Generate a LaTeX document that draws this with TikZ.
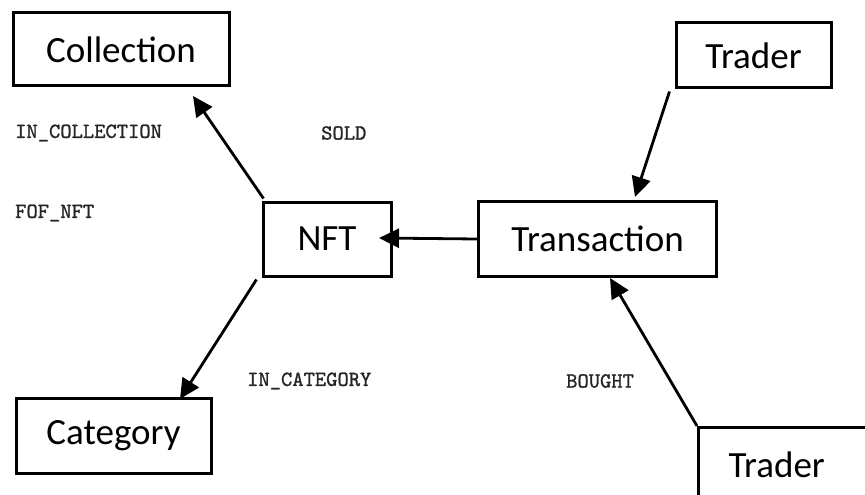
\documentclass[tikz,border=0pt]{standalone}
\usepackage{fontspec}
\setmainfont{Carlito}
\newfontfamily\relfont[FakeBold=1.2]{lmmono10-regular.otf}
\usetikzlibrary{arrows.meta}
\tikzset{
  box/.style={draw=black, line width=3pt, fill=white, inner sep=0pt, font=\fontsize{37}{40}\selectfont, text=black},
  rel/.style={font=\relfont\fontsize{21.5}{24}\selectfont, anchor=west, inner sep=0pt, text=black!85},
  link/.style={line width=2.8pt, -{Triangle[length=20pt,width=19pt]}}
}
\begin{document}
\begin{tikzpicture}[x=1pt,y=-1pt]
\useasboundingbox (0,0) rectangle (865,495);
\clip (0,0) rectangle (865,495);
\fill[white] (0,0) rectangle (865,495);
\node[box, minimum width=216pt, minimum height=73pt] (coll) at (121,49.5) {Collection};
\node[box, minimum width=155pt, minimum height=65pt] (trader1) at (753.5,55.5) {Trader};
\node[box, minimum width=128pt, minimum height=74pt] (nft) at (327,239) {NFT};
\node[box, minimum width=238pt, minimum height=75pt] (trans) at (597.5,239) {Transaction};
\node[box, minimum width=195pt, minimum height=75pt] (cat) at (113.5,435.5) {Category};
\node[box, anchor=north west, minimum height=75pt, text width=150pt, inner xsep=30pt, align=left] (trader2) at (697,426) {Trader};
\node[rel] (inc) at (15,133) {IN\_COLLECTION};
\node[rel] (sold) at (321,133) {SOLD};
\node[rel] (fof) at (15,213) {FOF\_NFT};
\node[rel] (incat) at (247,381) {IN\_CATEGORY};
\node[rel] (bought) at (566,381) {BOUGHT};
\coordinate (collT) at (193,96);
\coordinate (nftT) at (379,238);
\coordinate (catT) at (180,399);
\coordinate (transT) at (635,197);
\coordinate (transB) at (610,278);
\draw[link] (nft.north west) ++(2,-2) -- (collT);
\draw[link] (trans.west) -- (nftT);
\draw[link] (nft.south west) ++(-5,2) -- (catT);
\draw[link] (trader1.south west) ++(-5,2) -- (transT);
\draw[link] (trader2.north west) -- (transB);
\end{tikzpicture}
\end{document}
